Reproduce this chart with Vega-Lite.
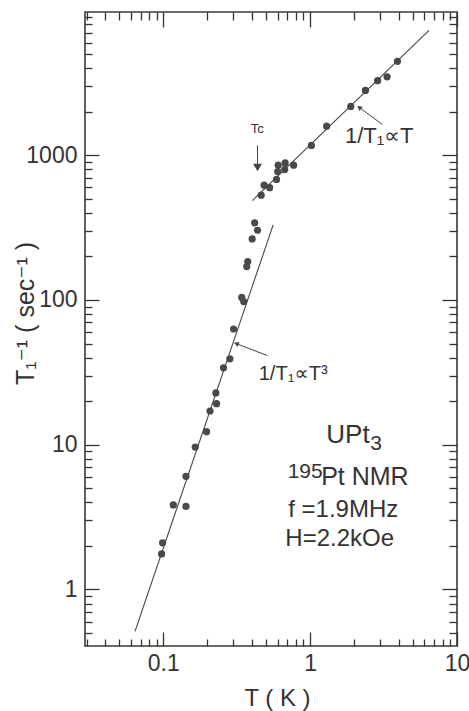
{
  "$schema": "https://vega.github.io/schema/vega-lite/v6.json",
  "width": 372,
  "height": 634,
  "autosize": {"type": "none"},
  "padding": {"left": 85, "top": 12, "right": 12, "bottom": 65},
  "background": "white",
  "config": {
    "view": {"stroke": "#3a3a3a", "strokeWidth": 1.6},
    "font": "Liberation Sans, DejaVu Sans",
    "text": {"font": "Liberation Sans, DejaVu Sans", "color": "#333333"}
  },
  "datasets": {
    "points": [
      {"T": 3.93, "R": 4450}, {"T": 3.34, "R": 3480}, {"T": 2.88, "R": 3270},
      {"T": 2.38, "R": 2800}, {"T": 1.89, "R": 2170}, {"T": 1.295, "R": 1586},
      {"T": 1.02, "R": 1167}, {"T": 0.772, "R": 853}, {"T": 0.676, "R": 884},
      {"T": 0.671, "R": 796}, {"T": 0.606, "R": 853}, {"T": 0.601, "R": 771},
      {"T": 0.59, "R": 680}, {"T": 0.53, "R": 596}, {"T": 0.486, "R": 621},
      {"T": 0.464, "R": 529}, {"T": 0.419, "R": 341}, {"T": 0.438, "R": 303},
      {"T": 0.403, "R": 264}, {"T": 0.376, "R": 184}, {"T": 0.37, "R": 170},
      {"T": 0.342, "R": 104}, {"T": 0.353, "R": 97.5}, {"T": 0.301, "R": 63},
      {"T": 0.284, "R": 39.2}, {"T": 0.257, "R": 34}, {"T": 0.228, "R": 22.8},
      {"T": 0.2305, "R": 19.2}, {"T": 0.208, "R": 17.1}, {"T": 0.197, "R": 12.3},
      {"T": 0.165, "R": 9.63}, {"T": 0.1427, "R": 6.05}, {"T": 0.117, "R": 3.84},
      {"T": 0.1427, "R": 3.75}, {"T": 0.0989, "R": 2.1}, {"T": 0.0974, "R": 1.76}
    ],
    "fits": [
      {"fit": "linear", "T": 0.405, "R": 486}, {"fit": "linear", "T": 6.45, "R": 7280},
      {"fit": "cubic", "T": 0.0642, "R": 0.514}, {"fit": "cubic", "T": 0.56, "R": 330}
    ],
    "arrows": [
      {"id": "tc", "T": 0.438, "R": 1167, "T2": 0.438, "R2": 848},
      {"id": "lin", "T": 3.1, "R": 1630, "T2": 2.12, "R2": 2170},
      {"id": "cub", "T": 0.512, "R": 41.3, "T2": 0.306, "R2": 50.4}
    ],
    "heads": [
      {"id": "tc", "T": 0.438, "R": 822},
      {"id": "lin", "T": 2.18, "R": 2120},
      {"id": "cub", "T": 0.318, "R": 49.7}
    ],
    "labels": [
      {"grp": "a", "txt": "UPt", "T": 1.81, "R": 10.3},
      {"grp": "d", "txt": "3", "T": 2.81, "R": 9.25},
      {"grp": "d", "txt": "195", "T": 0.925, "R": 5.9},
      {"grp": "b", "txt": "Pt NMR", "T": 2.36, "R": 5.3},
      {"grp": "c", "txt": "f =1.9MHz", "T": 1.68, "R": 3.15},
      {"grp": "c", "txt": "H=2.2kOe", "T": 1.59, "R": 2.01},
      {"grp": "g", "txt": "1/T₁∝T", "T": 2.95, "R": 1218},
      {"grp": "e", "txt": "1/T₁∝T³", "T": 0.766, "R": 28.2},
      {"grp": "f", "txt": "Tc", "T": 0.437, "R": 1429}
    ]
  },
  "resolve": {"scale": {"x": "shared", "y": "shared"}, "axis": {"x": "independent", "y": "independent"}},
  "layer": [
    {
      "data": {"name": "points"},
      "mark": {"type": "circle", "size": 52, "color": "#4a4a4a", "opacity": 1},
      "encoding": {
        "x": {
          "field": "T", "type": "quantitative",
          "scale": {"type": "log", "domain": [0.0293, 10], "nice": false},
          "axis": {
            "orient": "bottom",
            "values": [0.03, 0.04, 0.05, 0.06, 0.07, 0.08, 0.09, 0.1, 0.2, 0.3, 0.4, 0.5, 0.6, 0.7, 0.8, 0.9, 1, 2, 3, 4, 5, 6, 7, 8, 9, 10],
            "format": "~g",
            "labelExpr": "indexof([0.1, 1, 10], datum.value) >= 0 ? datum.label : ''",
            "tickSize": {"condition": {"test": "indexof([0.1, 1, 10], datum.value) >= 0", "value": -14}, "value": -7},
            "tickColor": "#333333", "tickWidth": 1.3,
            "labelPadding": 20, "labelFontSize": 23, "labelColor": "#333333",
            "labelFlush": false, "labelOverlap": false,
            "domain": false, "grid": false,
            "title": "T ( K )", "titleFontSize": 24, "titleFontWeight": "normal", "titleColor": "#333333",
            "titleX": 192, "titleY": 59, "titleBaseline": "alphabetic", "titleAlign": "center"
          }
        },
        "y": {
          "field": "R", "type": "quantitative",
          "scale": {"type": "log", "domain": [0.407, 9750], "nice": false},
          "axis": {
            "orient": "left",
            "values": [0.5, 0.6, 0.7, 0.8, 0.9, 1, 2, 3, 4, 5, 6, 7, 8, 9, 10, 20, 30, 40, 50, 60, 70, 80, 90, 100, 200, 300, 400, 500, 600, 700, 800, 900, 1000, 2000, 3000, 4000, 5000, 6000, 7000, 8000, 9000],
            "format": "~g",
            "labelExpr": "indexof([1, 10, 100, 1000], datum.value) >= 0 ? datum.label : ''",
            "tickSize": {"condition": {"test": "indexof([1, 10, 100, 1000], datum.value) >= 0", "value": -14}, "value": -7},
            "tickColor": "#333333", "tickWidth": 1.3,
            "labelPadding": 22, "labelFontSize": 23, "labelColor": "#333333",
            "labelFlush": false, "labelOverlap": false,
            "domain": false, "grid": false,
            "title": "T₁⁻¹   ( sec⁻¹ )", "titleFontSize": 25, "titleFontWeight": "normal", "titleColor": "#333333",
            "titleAngle": 270, "titleX": -52, "titleY": 301, "titleBaseline": "alphabetic", "titleAlign": "center"
          }
        }
      }
    },
    {
      "data": {"name": "fits"},
      "mark": {"type": "line", "color": "#444444", "strokeWidth": 1.1},
      "encoding": {
        "detail": {"field": "fit"},
        "x": {
          "field": "T", "type": "quantitative",
          "scale": {"type": "log", "domain": [0.0293, 10], "nice": false},
          "axis": {
            "orient": "top",
            "values": [0.03, 0.04, 0.05, 0.06, 0.07, 0.08, 0.09, 0.1, 0.2, 0.3, 0.4, 0.5, 0.6, 0.7, 0.8, 0.9, 1, 2, 3, 4, 5, 6, 7, 8, 9, 10],
            "labels": false,
            "tickSize": {"condition": {"test": "indexof([0.1, 1, 10], datum.value) >= 0", "value": -15}, "value": -8},
            "tickColor": "#333333", "tickWidth": 1.3,
            "domain": false, "grid": false, "title": null
          }
        },
        "y": {
          "field": "R", "type": "quantitative",
          "scale": {"type": "log", "domain": [0.407, 9750], "nice": false},
          "axis": {
            "orient": "right",
            "values": [0.5, 0.6, 0.7, 0.8, 0.9, 1, 2, 3, 4, 5, 6, 7, 8, 9, 10, 20, 30, 40, 50, 60, 70, 80, 90, 100, 200, 300, 400, 500, 600, 700, 800, 900, 1000, 2000, 3000, 4000, 5000, 6000, 7000, 8000, 9000],
            "labels": false,
            "tickSize": {"condition": {"test": "indexof([1, 10, 100, 1000], datum.value) >= 0", "value": -15}, "value": -8},
            "tickColor": "#333333", "tickWidth": 1.3,
            "domain": false, "grid": false, "title": null
          }
        }
      }
    },
    {
      "data": {"name": "arrows"},
      "mark": {"type": "rule", "color": "#444444", "strokeWidth": 1},
      "encoding": {
        "x": {"field": "T", "type": "quantitative", "scale": {"type": "log", "domain": [0.0293, 10], "nice": false}, "axis": null},
        "y": {"field": "R", "type": "quantitative", "scale": {"type": "log", "domain": [0.407, 9750], "nice": false}, "axis": null},
        "x2": {"field": "T2"},
        "y2": {"field": "R2"},
        "strokeWidth": {"condition": {"test": "datum.id == 'tc'", "value": 2}, "value": 1}
      }
    },
    {
      "data": {"name": "heads"},
      "transform": [{"filter": "datum.id == 'tc'"}],
      "mark": {"type": "point", "shape": "triangle-down", "filled": true, "size": 80, "color": "#444444", "opacity": 1},
      "encoding": {
        "x": {"field": "T", "type": "quantitative", "scale": {"type": "log", "domain": [0.0293, 10], "nice": false}, "axis": null},
        "y": {"field": "R", "type": "quantitative", "scale": {"type": "log", "domain": [0.407, 9750], "nice": false}, "axis": null}
      }
    },
    {
      "data": {"name": "heads"},
      "transform": [{"filter": "datum.id == 'lin'"}],
      "mark": {"type": "point", "shape": "triangle", "filled": true, "size": 30, "angle": 306, "color": "#444444", "opacity": 1},
      "encoding": {
        "x": {"field": "T", "type": "quantitative", "scale": {"type": "log", "domain": [0.0293, 10], "nice": false}, "axis": null},
        "y": {"field": "R", "type": "quantitative", "scale": {"type": "log", "domain": [0.407, 9750], "nice": false}, "axis": null}
      }
    },
    {
      "data": {"name": "heads"},
      "transform": [{"filter": "datum.id == 'cub'"}],
      "mark": {"type": "point", "shape": "triangle", "filled": true, "size": 30, "angle": 291, "color": "#444444", "opacity": 1},
      "encoding": {
        "x": {"field": "T", "type": "quantitative", "scale": {"type": "log", "domain": [0.0293, 10], "nice": false}, "axis": null},
        "y": {"field": "R", "type": "quantitative", "scale": {"type": "log", "domain": [0.407, 9750], "nice": false}, "axis": null}
      }
    },
    {
      "data": {"name": "labels"},
      "transform": [{"filter": "datum.grp == 'a'"}],
      "mark": {"type": "text", "fontSize": 26, "align": "center", "baseline": "alphabetic", "color": "#333333"},
      "encoding": {
        "x": {"field": "T", "type": "quantitative", "scale": {"type": "log", "domain": [0.0293, 10], "nice": false}, "axis": null},
        "y": {"field": "R", "type": "quantitative", "scale": {"type": "log", "domain": [0.407, 9750], "nice": false}, "axis": null},
        "text": {"field": "txt"}
      }
    },
    {
      "data": {"name": "labels"},
      "transform": [{"filter": "datum.grp == 'b'"}],
      "mark": {"type": "text", "fontSize": 25, "align": "center", "baseline": "alphabetic", "color": "#333333"},
      "encoding": {
        "x": {"field": "T", "type": "quantitative", "scale": {"type": "log", "domain": [0.0293, 10], "nice": false}, "axis": null},
        "y": {"field": "R", "type": "quantitative", "scale": {"type": "log", "domain": [0.407, 9750], "nice": false}, "axis": null},
        "text": {"field": "txt"}
      }
    },
    {
      "data": {"name": "labels"},
      "transform": [{"filter": "datum.grp == 'c'"}],
      "mark": {"type": "text", "fontSize": 24, "align": "center", "baseline": "alphabetic", "color": "#333333"},
      "encoding": {
        "x": {"field": "T", "type": "quantitative", "scale": {"type": "log", "domain": [0.0293, 10], "nice": false}, "axis": null},
        "y": {"field": "R", "type": "quantitative", "scale": {"type": "log", "domain": [0.407, 9750], "nice": false}, "axis": null},
        "text": {"field": "txt"}
      }
    },
    {
      "data": {"name": "labels"},
      "transform": [{"filter": "datum.grp == 'd'"}],
      "mark": {"type": "text", "fontSize": 21, "align": "center", "baseline": "alphabetic", "color": "#333333"},
      "encoding": {
        "x": {"field": "T", "type": "quantitative", "scale": {"type": "log", "domain": [0.0293, 10], "nice": false}, "axis": null},
        "y": {"field": "R", "type": "quantitative", "scale": {"type": "log", "domain": [0.407, 9750], "nice": false}, "axis": null},
        "text": {"field": "txt"}
      }
    },
    {
      "data": {"name": "labels"},
      "transform": [{"filter": "datum.grp == 'g'"}],
      "mark": {"type": "text", "fontSize": 22, "align": "center", "baseline": "alphabetic", "color": "#333333"},
      "encoding": {
        "x": {"field": "T", "type": "quantitative", "scale": {"type": "log", "domain": [0.0293, 10], "nice": false}, "axis": null},
        "y": {"field": "R", "type": "quantitative", "scale": {"type": "log", "domain": [0.407, 9750], "nice": false}, "axis": null},
        "text": {"field": "txt"}
      }
    },
    {
      "data": {"name": "labels"},
      "transform": [{"filter": "datum.grp == 'e'"}],
      "mark": {"type": "text", "fontSize": 20, "align": "center", "baseline": "alphabetic", "color": "#333333"},
      "encoding": {
        "x": {"field": "T", "type": "quantitative", "scale": {"type": "log", "domain": [0.0293, 10], "nice": false}, "axis": null},
        "y": {"field": "R", "type": "quantitative", "scale": {"type": "log", "domain": [0.407, 9750], "nice": false}, "axis": null},
        "text": {"field": "txt"}
      }
    },
    {
      "data": {"name": "labels"},
      "transform": [{"filter": "datum.grp == 'f'"}],
      "mark": {"type": "text", "fontSize": 13, "align": "center", "baseline": "alphabetic", "color": "#333333"},
      "encoding": {
        "x": {"field": "T", "type": "quantitative", "scale": {"type": "log", "domain": [0.0293, 10], "nice": false}, "axis": null},
        "y": {"field": "R", "type": "quantitative", "scale": {"type": "log", "domain": [0.407, 9750], "nice": false}, "axis": null},
        "text": {"field": "txt"}
      }
    }
  ]
}
